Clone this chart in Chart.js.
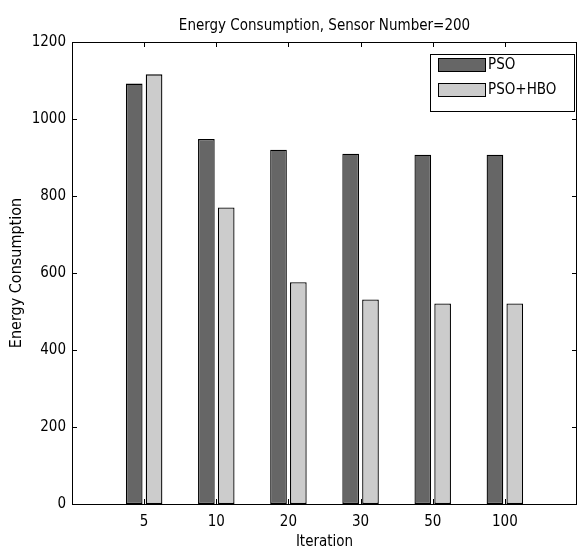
<!DOCTYPE html>
<html>
<head>
<meta charset="utf-8">
<script src="https://cdn.jsdelivr.net/npm/chart.js@4.4.1/dist/chart.umd.min.js"></script>
<style>
html,body{margin:0;padding:0;background:#fff;}
#wrap{width:579px;height:548px;position:relative;}
</style>
</head>
<body>
<div id="wrap"><canvas id="c" width="579" height="548"></canvas></div>
<script>
const categories = ['5', '10', '20', '30', '50', '100'];
const psoValues = [1092, 948, 920, 910, 907, 907];
const psoHboValues = [1116, 770, 576, 531, 521, 521];
const yTicks = [0, 200, 400, 600, 800, 1000, 1200];
const seriesNames = ['PSO', 'PSO+HBO'];
const seriesColors = ['#666666', '#cccccc'];
const chartTitle = 'Energy Consumption, Sensor Number=200';

const FONT = "'DejaVu Sans Condensed','Liberation Sans Narrow',sans-serif";

const boxTicksPlugin = {
  id: 'boxTicks',
  afterDatasetsDraw(chart) {
    const {ctx, chartArea: a, scales} = chart;
    ctx.save();
    ctx.strokeStyle = '#000';
    ctx.lineWidth = 1;
    ctx.beginPath();
    ctx.rect(Math.round(a.left)+0.5, Math.round(a.top)+0.5, Math.round(a.right-a.left)-1, Math.round(a.bottom-a.top));
    ctx.stroke();
    const L = 5;
    ctx.beginPath();
    scales.x.ticks.forEach(t => {
      const px = Math.round(scales.x.getPixelForValue(t.value)) + 0.5;
      ctx.moveTo(px, a.bottom); ctx.lineTo(px, a.bottom - L);
      ctx.moveTo(px, a.top); ctx.lineTo(px, a.top + L);
    });
    scales.y.ticks.forEach(t => {
      const py = Math.round(scales.y.getPixelForValue(t.value)) + 0.5;
      ctx.moveTo(a.left, py); ctx.lineTo(a.left + L, py);
      ctx.moveTo(a.right, py); ctx.lineTo(a.right - L, py);
    });
    ctx.stroke();
    // title centred over the plot area
    ctx.fillStyle = '#000';
    ctx.font = '15px ' + FONT;
    ctx.textAlign = 'center';
    ctx.textBaseline = 'alphabetic';
    ctx.fillText(chartTitle, (a.left + a.right) / 2, 30);
    // legend
    const lx = 430.5, ly = 54.5, lw = 144, lh = 57;
    ctx.fillStyle = '#fff';
    ctx.fillRect(lx, ly, lw, lh);
    ctx.strokeRect(lx, ly, lw, lh);
    ctx.font = '15px ' + FONT;
    ctx.textBaseline = 'middle';
    ctx.textAlign = 'left';
    seriesNames.forEach((n, i) => {
      const py = 58.5 + i * 25;
      ctx.fillStyle = seriesColors[i];
      ctx.fillRect(438.5, py, 47, 13);
      ctx.strokeRect(438.5, py, 47, 13);
      ctx.fillStyle = '#000';
      ctx.fillText(n, 488, py + 7);
    });
    ctx.restore();
  }
};

const datasets = [psoValues, psoHboValues].map((vals, i) => ({
  label: seriesNames[i],
  data: vals.map((v, k) => ({x: k + 1, y: v})),
  backgroundColor: seriesColors[i],
  borderColor: '#000',
  borderWidth: 1.3,
  borderSkipped: false,
  categoryPercentage: 0.55,
  barPercentage: 0.84
}));

new Chart(document.getElementById('c'), {
  type: 'bar',
  data: {datasets},
  options: {
    responsive: false,
    animation: false,
    layout: {padding: {left: 0, right: 2, top: 42, bottom: -3}},
    plugins: {
      legend: {display: false},
      tooltip: {enabled: false},
      title: {display: false}
    },
    scales: {
      x: {
        type: 'linear',
        min: 0, max: 7,
        offset: false,
        grid: {display: false, drawTicks: false, tickLength: 0},
        border: {display: false},
        afterBuildTicks(scale) {
          scale.ticks = categories.map((c, k) => ({value: k + 1}));
        },
        afterFit(scale) { scale.height = 47; },
        ticks: {
          color: '#000',
          font: {family: FONT, size: 15},
          padding: 9,
          maxRotation: 0,
          callback: (v) => categories[v - 1] ?? ''
        },
        title: {
          display: true, text: 'Iteration', color: '#000',
          font: {family: FONT, size: 15}, padding: {top: 0, bottom: 0}
        }
      },
      y: {
        min: 0, max: 1200,
        grid: {display: false, drawTicks: false, tickLength: 0},
        border: {display: false},
        afterBuildTicks(scale) {
          scale.ticks = yTicks.map(v => ({value: v}));
        },
        afterFit(scale) { scale.width = 72; },
        ticks: {
          color: '#000',
          font: {family: FONT, size: 15},
          padding: 6,
          callback: (v) => String(v)
        },
        title: {
          display: true, text: 'Energy Consumption', color: '#000',
          font: {family: FONT, size: 16}, padding: {top: 7, bottom: 0}
        }
      }
    }
  },
  plugins: [boxTicksPlugin]
});
</script>
</body>
</html>
